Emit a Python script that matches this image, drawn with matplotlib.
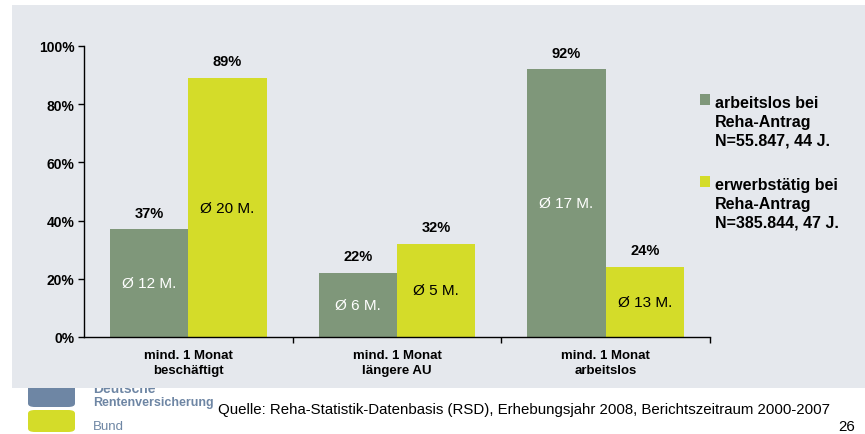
import matplotlib
matplotlib.use("Agg")
import matplotlib.pyplot as plt
import numpy as np
from matplotlib.patches import FancyBboxPatch, Rectangle

plt.rcParams["font.family"] = ["Liberation Sans", "DejaVu Sans"]

categories = ["mind. 1 Monat\nbeschäftigt", "mind. 1 Monat\nlängere AU", "mind. 1 Monat\narbeitslos"]
series_names = ["arbeitslos bei\nReha-Antrag\nN=55.847, 44 J.", "erwerbstätig bei\nReha-Antrag\nN=385.844, 47 J."]
arbeitslos = [37, 22, 92]
erwerbstaetig = [89, 32, 24]
dauer_arbeitslos = ["Ø 12 M.", "Ø 6 M.", "Ø 17 M."]
dauer_erwerbstaetig = ["Ø 20 M.", "Ø 5 M.", "Ø 13 M."]
yticks = [0, 20, 40, 60, 80, 100]
source = "Quelle: Reha-Statistik-Datenbasis (RSD), Erhebungsjahr 2008, Berichtszeitraum 2000-2007"
page = "26"

GREEN = "#7f977a"
YELLOW = "#d4dc29"
PANEL = "#e5e8ed"
LOGO_BLUE = "#6e86a4"

fig = plt.figure(figsize=(8.65, 4.35), dpi=100)
W, H = 865, 435


def fx(px):
    return px / W


def fy(py):
    return 1 - py / H


# logo (partly hidden behind the grey panel)
fig.patches.append(FancyBboxPatch((fx(28), fy(408)), fx(47), fy(383) - fy(408),
                                  boxstyle="round,pad=0,rounding_size=0.008",
                                  transform=fig.transFigure, fc=LOGO_BLUE, ec="none", zorder=0.1))
fig.patches.append(FancyBboxPatch((fx(28), fy(433)), fx(47), fy(411) - fy(433),
                                  boxstyle="round,pad=0,rounding_size=0.008",
                                  transform=fig.transFigure, fc=YELLOW, ec="none", zorder=0.1))
fig.text(fx(93), fy(389), "Deutsche", color=LOGO_BLUE, fontsize=10, fontweight="bold",
         va="center", zorder=0.2)
fig.text(fx(93), fy(403), "Rentenversicherung", color=LOGO_BLUE, fontsize=9, fontweight="bold",
         va="center", zorder=0.2)
fig.text(fx(93), fy(427), "Bund", color=LOGO_BLUE, fontsize=9.5, va="center", zorder=0.2)

# grey slide panel
fig.patches.append(Rectangle((fx(12), fy(389)), 1 - fx(12), fy(6) - fy(389),
                             transform=fig.transFigure, fc=PANEL, ec="none", zorder=0.5))

ax = fig.add_axes([fx(84), fy(338), fx(710) - fx(84), fy(47) - fy(338)], zorder=1)
ax.set_facecolor("none")

x = np.arange(len(categories))
bw = 0.375
b1 = ax.bar(x - bw / 2, arbeitslos, bw, color=GREEN, zorder=2)
b2 = ax.bar(x + bw / 2, erwerbstaetig, bw, color=YELLOW, zorder=2)

for bars, vals, inner, tc in [(b1, arbeitslos, dauer_arbeitslos, "white"),
                              (b2, erwerbstaetig, dauer_erwerbstaetig, "black")]:
    for rect, v, t in zip(bars, vals, inner):
        cx = rect.get_x() + rect.get_width() / 2
        ax.annotate(f"{v}%", (cx, v), xytext=(0, 7), textcoords="offset points",
                    ha="center", va="bottom", fontsize=10.5, fontweight="bold")
        ax.text(cx, v / 2, t, ha="center", va="center", fontsize=11, color=tc)

ax.set_xlim(-0.5, len(categories) - 0.5)
ax.set_ylim(0, 100)
ax.set_yticks(yticks)
ax.set_yticklabels([f"{t}%" for t in yticks], fontsize=10, fontweight="bold")
ax.set_xticks(x)
ax.set_xticklabels(categories, fontsize=9.5, fontweight="bold", linespacing=1.3)
ax.tick_params(axis="x", length=0, pad=9)
ax.set_xticks(np.arange(len(categories)) + 0.5, minor=True)
ax.tick_params(axis="x", which="minor", length=4, width=1)
ax.tick_params(axis="y", length=4, width=1, pad=3)
for s in ["top", "right"]:
    ax.spines[s].set_visible(False)
for s in ["left", "bottom"]:
    ax.spines[s].set_linewidth(1)

# legend: square next to the first line of each multi-line label
for (top, color, label) in [(95, GREEN, series_names[0]), (177, YELLOW, series_names[1])]:
    fig.patches.append(Rectangle((fx(700), fy(top + 11)), fx(10), fy(top) - fy(top + 11),
                                 transform=fig.transFigure, fc=color, ec="none", zorder=2))
    fig.text(fx(715), fy(top + 1), label, fontsize=11.5, fontweight="bold",
             va="top", ha="left", linespacing=1.3, zorder=2)

fig.text(fx(218), fy(410), source, fontsize=10.8, va="center", zorder=2)
fig.text(fx(855), fy(427), page, fontsize=10.8, va="center", ha="right", zorder=2)

fig.savefig("out.png", dpi=100)
